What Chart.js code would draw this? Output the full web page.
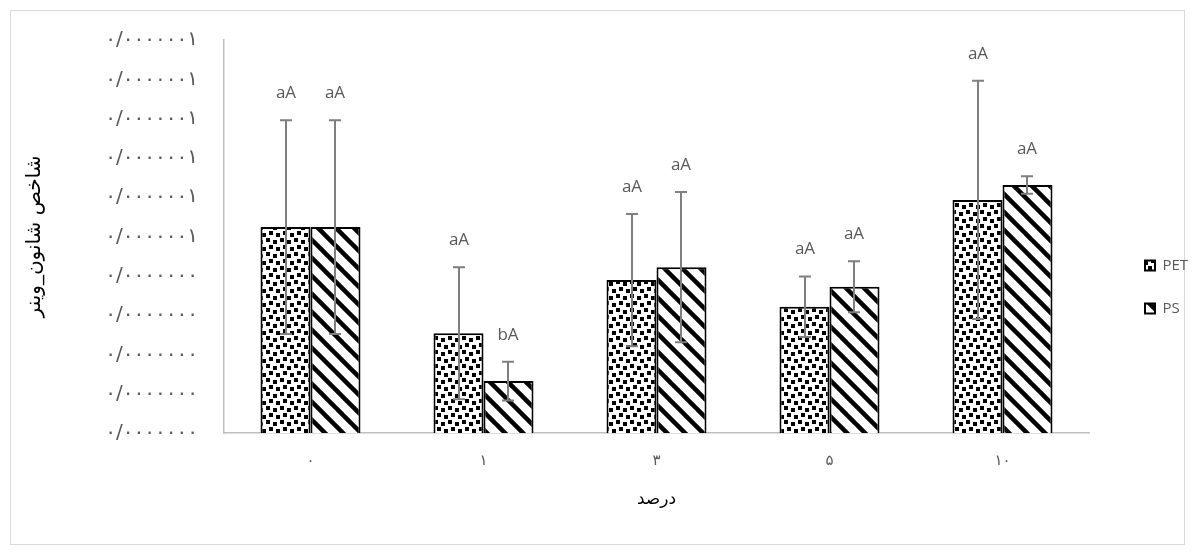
<!DOCTYPE html>
<html><head><meta charset="utf-8">
<script src="https://cdn.jsdelivr.net/npm/chart.js@4"></script>
<style>html,body{margin:0;padding:0;background:#fff;overflow:hidden}</style>
</head><body>
<canvas id="c" width="1195" height="555" style="width:1195px;height:555px;display:block"></canvas>
<script>
// ---- data ----
const categories = ['۰', '۱', '۳', '۵', '۱۰'];
const petValues = [5.24, 2.54, 3.89, 3.21, 5.93];
const petErrors = [2.72, 1.68, 1.68, 0.77, 3.03];
const psValues = [5.24, 1.32, 4.22, 3.72, 6.31];
const psErrors = [2.72, 0.49, 1.91, 0.65, 0.22];
const petLetters = ['aA', 'aA', 'aA', 'aA', 'aA'];
const psLetters = ['aA', 'bA', 'aA', 'aA', 'aA'];
const yTickLabels = ['۰/۰۰۰۰۰۰۰', '۰/۰۰۰۰۰۰۰', '۰/۰۰۰۰۰۰۰', '۰/۰۰۰۰۰۰۰', '۰/۰۰۰۰۰۰۰',
  '۰/۰۰۰۰۰۰۱', '۰/۰۰۰۰۰۰۱', '۰/۰۰۰۰۰۰۱', '۰/۰۰۰۰۰۰۱', '۰/۰۰۰۰۰۰۱', '۰/۰۰۰۰۰۰۱'];
const seriesNames = ['PET', 'PS'];
const yTitle = 'شاخص شانون_وینر';
const xTitle = 'درصد';

// ---- patterns ----
function dotPattern() {
  const c = document.createElement('canvas'); c.width = 14; c.height = 14;
  const g = c.getContext('2d');
  g.fillStyle = '#fff'; g.fillRect(0, 0, 14, 14);
  g.fillStyle = '#000';
  [[0,0],[7,2],[3,7],[10,9]].forEach(p => g.fillRect(p[0], p[1], 4, 4));
  return g.createPattern(c, 'repeat');
}
function stripePattern() {
  const s = 18;
  const c = document.createElement('canvas'); c.width = s; c.height = s;
  const g = c.getContext('2d');
  g.fillStyle = '#fff'; g.fillRect(0, 0, s, s);
  g.strokeStyle = '#000'; g.lineWidth = 4.5;
  for (let k = -1; k <= 1; k++) {
    g.beginPath(); g.moveTo(-2, -2 + k * s); g.lineTo(s + 2, s + 2 + k * s); g.stroke();
  }
  return g.createPattern(c, 'repeat');
}

const errorsBySet = [petErrors, psErrors];
const lettersBySet = [petLetters, psLetters];

const frame = {
  id: 'frame',
  beforeDraw(chart) {
    const ctx = chart.ctx;
    ctx.save();
    ctx.fillStyle = '#fff'; ctx.fillRect(0, 0, chart.width, chart.height);
    ctx.strokeStyle = '#d9d9d9'; ctx.lineWidth = 1;
    ctx.strokeRect(10.5, 10.5, chart.width - 21, chart.height - 21);
    ctx.restore();
  }
};

const errorBars = {
  id: 'errorBars',
  afterDatasetsDraw(chart) {
    const ctx = chart.ctx, y = chart.scales.y;
    chart.data.datasets.forEach((ds, di) => {
      const meta = chart.getDatasetMeta(di);
      meta.data.forEach((bar, i) => {
        const v = ds.data[i], e = errorsBySet[di][i];
        const top = y.getPixelForValue(v + e), bot = y.getPixelForValue(v - e);
        const x = Math.round(bar.x);
        ctx.save();
        ctx.strokeStyle = '#7f7f7f'; ctx.lineWidth = 2;
        ctx.beginPath();
        ctx.moveTo(x, top); ctx.lineTo(x, bot);
        ctx.moveTo(x - 6, top); ctx.lineTo(x + 6, top);
        ctx.moveTo(x - 6, bot); ctx.lineTo(x + 6, bot);
        ctx.stroke();
        ctx.fillStyle = '#595959';
        ctx.font = '17px "Open Sans"';
        ctx.textAlign = 'center'; ctx.textBaseline = 'middle';
        ctx.fillText(lettersBySet[di][i], x, top - 27);
        ctx.restore();
      });
    });
  }
};

const LEGEND_SHIFT = 28;
const legendFix = {
  id: 'legendFix',
  beforeLayout(chart) {
    const lg = chart.legend;
    if (lg && !lg._patched) {
      const f = lg.fit;
      lg.fit = function () { f.call(this); this.width = 106; };
      lg._patched = true;
    }
  },
  afterLayout(chart) {
    const lg = chart.legend;
    lg.left += LEGEND_SHIFT; lg.right += LEGEND_SHIFT;
  }
};

new Chart(document.getElementById('c'), {
  type: 'bar',
  data: {
    labels: categories,
    datasets: [
      { label: seriesNames[0], data: petValues, backgroundColor: dotPattern(), borderColor: '#000', borderWidth: 2 },
      { label: seriesNames[1], data: psValues, backgroundColor: stripePattern(), borderColor: '#000', borderWidth: 2 }
    ]
  },
  options: {
    responsive: false,
    animation: false,
    devicePixelRatio: 1,
    layout: { padding: { top: 40, left: 20, right: 0, bottom: 21 } },
    datasets: { bar: { barPercentage: 1, categoryPercentage: 0.578 } },
    plugins: {
      legend: {
        position: 'right',
        labels: {
          boxWidth: 10, boxHeight: 10, padding: 28,
          color: '#595959', font: { family: 'Open Sans', size: 15 }
        }
      },
      tooltip: { enabled: false }
    },
    scales: {
      x: {
        grid: { display: false, drawTicks: false },
        border: { display: true, color: '#bfbfbf', width: 1.5 },
        ticks: { color: '#595959', font: { family: 'DejaVu Sans', size: 15 }, padding: 19 },
        title: { display: true, text: xTitle, color: '#000', font: { family: 'DejaVu Sans', size: 17 }, padding: { top: 0, bottom: 24 } },
        afterFit(s) { s.height = 101; }
      },
      y: {
        min: 0, max: 10,
        grid: { display: false, drawTicks: false },
        border: { display: true, color: '#bfbfbf', width: 1.5 },
        ticks: {
          stepSize: 1, padding: 26, color: '#595959',
          font: { family: 'DejaVu Sans', size: 20 },
          callback: (v, i) => yTickLabels[i]
        },
        title: { display: true, text: yTitle, color: '#000', font: { family: 'DejaVu Sans', size: 20 }, padding: { top: 3, bottom: 0 } },
        afterFit(s) { s.width = 204; }
      }
    }
  },
  plugins: [frame, errorBars, legendFix]
});
</script>
</body></html>
